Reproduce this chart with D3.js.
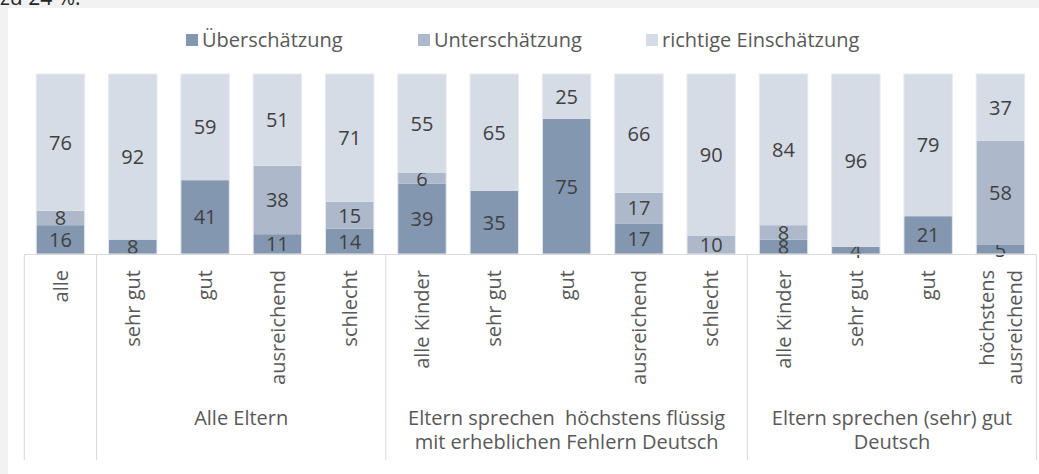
<!DOCTYPE html>
<html>
<head>
<meta charset="utf-8">
<script src="https://cdn.jsdelivr.net/npm/d3@7"></script>
<style>
  body { margin: 0; background: #f2f2f2; }
  svg { display: block; }
  text { font-family: "Open Sans", sans-serif; white-space: pre; }
</style>
</head>
<body>
<script>
// categories (two-line labels split with |)
const categories = ["alle", "sehr gut", "gut", "ausreichend", "schlecht",
  "alle Kinder", "sehr gut", "gut", "ausreichend", "schlecht",
  "alle Kinder", "sehr gut", "gut", "höchstens|ausreichend"];

const seriesNames = ["Überschätzung", "Unterschätzung", "richtige Einschätzung"];
const ueberschaetzung = [16, 8, 41, 11, 14, 39, 35, 75, 17, 0, 8, 4, 21, 5];
const unterschaetzung = [8, 0, 0, 38, 15, 6, 0, 0, 17, 10, 8, 0, 0, 58];
const richtig = [76, 92, 59, 51, 71, 55, 65, 25, 66, 90, 84, 96, 79, 37];

// groups: first/last category index
const groups = [
  { from: 0, to: 0, label: [] },
  { from: 1, to: 4, label: ["Alle Eltern"] },
  { from: 5, to: 9, label: ["Eltern sprechen  höchstens flüssig", "mit erheblichen Fehlern Deutsch"] },
  { from: 10, to: 13, label: ["Eltern sprechen (sehr) gut", "Deutsch"] }
];

const colors = ["#8497b0", "#adb9ca", "#d6dce5"];

const W = 1039, H = 474;
const svg = d3.select("body").append("svg").attr("width", W).attr("height", H);

// white chart area and cut-off text above
svg.append("rect").attr("x", 8).attr("y", 8).attr("width", W).attr("height", H).attr("fill", "#fff");
svg.append("text").attr("x", 0).attr("y", 5).attr("font-size", 21).attr("fill", "#262626").text("zu 24 %.");

const idx = d3.range(categories.length);
const x = d3.scaleBand().domain(idx).range([24.3, 1036.6]).paddingInner(0.33).paddingOuter(0.165);
const y = d3.scaleLinear().domain([0, 100]).range([254, 74]);

const table = idx.map(i => ({ i, a: ueberschaetzung[i], b: unterschaetzung[i], c: richtig[i] }));
const stacked = d3.stack().keys(["a", "b", "c"])(table);

const layer = svg.append("g").selectAll("g").data(stacked).join("g")
  .attr("fill", (d, k) => colors[k]);

layer.selectAll("rect").data(d => d).join("rect")
  .attr("x", d => x(d.data.i))
  .attr("width", x.bandwidth())
  .attr("y", d => y(d[1]))
  .attr("height", d => y(d[0]) - y(d[1]));

// light outline around the bars
svg.append("g").selectAll("rect").data(table).join("rect")
  .attr("x", d => x(d.i))
  .attr("width", x.bandwidth())
  .attr("y", y(100))
  .attr("height", y(0) - y(100))
  .attr("fill", "none").attr("stroke", "#e6eaf0").attr("stroke-width", 1);

// value labels
layer.selectAll("text").data(d => d.filter(s => s[1] - s[0] > 0)).join("text")
  .attr("x", d => x(d.data.i) + x.bandwidth() / 2)
  .attr("y", d => y((d[0] + d[1]) / 2))
  .attr("dy", "0.36em")
  .attr("text-anchor", "middle")
  .attr("font-size", 20)
  .attr("fill", "#404040")
  .text(d => d[1] - d[0]);

// axis line and group separators
const axis = svg.append("g").attr("stroke", "#d9d9d9").attr("stroke-width", 1);
const left = x.range()[0], right = x.range()[1], step = x.step();
axis.append("line").attr("x1", left).attr("x2", right).attr("y1", 254.5).attr("y2", 254.5);
const edges = [0].concat(groups.map(g => g.to + 1));
axis.selectAll("line.sep").data(edges).join("line").attr("class", "sep")
  .attr("x1", d => left + d * step).attr("x2", d => left + d * step)
  .attr("y1", 254.5).attr("y2", 460);

// rotated category labels
const cat = svg.append("g").attr("fill", "#595959").attr("font-size", 20);
cat.selectAll("g").data(idx).join("g")
  .attr("transform", i => `translate(${x(i) + x.bandwidth() / 2},270) rotate(-90)`)
  .each(function (i) {
    const lines = categories[i].split("|");
    const g = d3.select(this);
    lines.forEach((t, k) => {
      g.append("text")
        .attr("text-anchor", "end")
        .attr("y", (k - (lines.length - 1) / 2) * 28)
        .attr("dy", "0.36em")
        .text(t);
    });
  });

// group labels
const grp = svg.append("g").attr("fill", "#595959").attr("font-size", 20).attr("text-anchor", "middle");
groups.forEach(g => {
  const cx = left + (g.from + g.to + 1) / 2 * step;
  g.label.forEach((t, k) => {
    grp.append("text").attr("x", cx).attr("y", 425 + k * 24).text(t);
  });
});

// legend
const legend = svg.append("g").attr("font-size", 20).attr("fill", "#595959");
const legendX = [186, 418, 646];
seriesNames.forEach((name, k) => {
  legend.append("rect").attr("x", legendX[k]).attr("y", 34).attr("width", 12).attr("height", 12).attr("fill", colors[k]);
  legend.append("text").attr("x", legendX[k] + 16).attr("y", 47).text(name);
});
</script>
</body>
</html>
